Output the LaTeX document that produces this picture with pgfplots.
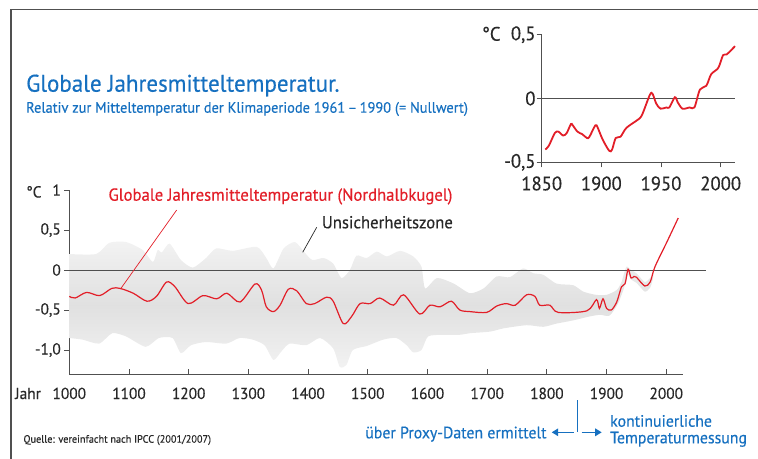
\documentclass[border=0pt]{standalone}
\usepackage{pgfplots}
\pgfplotsset{compat=1.18}
\usetikzlibrary{arrows.meta}
\usepackage{fontspec}
\setmainfont{PT Sans}[FakeStretch=0.96, FakeBold=0.4]
\definecolor{tblue}{RGB}{22,112,192}
\definecolor{tred}{RGB}{226,30,40}
\definecolor{axgray}{RGB}{80,80,80}
\definecolor{txtgray}{RGB}{40,40,40}
\begin{document}
\begin{tikzpicture}
\path[use as bounding box] (0bp,0bp) rectangle (758bp,-459bp);
\draw[line width=1.6bp, axgray] (11bp,-470bp) -- (11bp,-9.5bp) -- (770bp,-9.5bp);
% titles
\node[anchor=base west, inner sep=0, text=tblue, font=\fontsize{24bp}{28bp}\selectfont] at (26bp,-91.7bp) {Globale Jahresmitteltemperatur.};
\node[anchor=base west, inner sep=0, text=tblue, font=\fontsize{15bp}{18bp}\selectfont] at (26bp,-112.7bp) {Relativ zur Mitteltemperatur der Klimaperiode 1961\,–\,1990 (= Nullwert)};
% main axis
\begin{axis}[
  at={(69.3bp,-374bp)}, anchor=south west,
  scale only axis, width=613.7bp, height=184bp,
  xmin=1000, xmax=2028, ymin=-1.3, ymax=1,
  axis lines*=left,
  axis line style={axgray, line width=1bp},
  xtick={1000,1100,1200,1300,1400,1500,1600,1700,1800,1900,2000},
  xticklabels={1000,1100,1200,1300,1400,1500,1600,1700,1800,1900,2000},
  ytick={-1,-0.5,0,0.5,1},
  yticklabels={{-1,0},{-0,5},0,{0,5},1},
  tick align=outside, major tick length=5bp,
  tick style={axgray, line width=0.8bp},
  x tick style={yshift=5bp},
  tick label style={font=\fontsize{16bp}{18bp}\selectfont, text=txtgray},
  xticklabel style={anchor=base, yshift=-20bp},
  /pgf/number format/assume math mode=true,
  clip=false,
]
\addplot[draw=none, top color=gray!10, bottom color=gray!10, middle color=gray!24, smooth, tension=0.4] coordinates {
(1000,0.20) (1045,0.20) (1067,0.34) (1095,0.35) (1123,0.25) (1140,0.10) (1148,0.25) (1155,0.22) (1168,0.33) (1187,0.125) (1207,0.03) (1229,0.15) (1246,0.27) (1274,0.24) (1314,0.29) (1330,0.15) (1342,0.02) (1359,0.27) (1378,0.35) (1393,0.23) (1407,0.125) (1426,0.15) (1442,0.08) (1456,-0.10) (1470,0.0) (1481,0.18) (1498,0.15) (1515,0.23) (1532,0.17) (1554,0.24) (1576,0.17) (1590,0.04) (1596,-0.23) (1616,-0.10) (1644,-0.17) (1671,-0.29) (1694,-0.23) (1716,-0.08) (1738,-0.09) (1760,0.02) (1777,-0.04) (1794,-0.06) (1816,-0.17) (1844,-0.19) (1861,-0.27) (1882,-0.31) (1900,-0.31) (1917,-0.25) (1925,-0.15) (1933,0.04) (1941,0.0) (1950,-0.04) (1964,-0.15) (1973,-0.10) (1978,-0.06)
(1978,-0.10) (1973,-0.22) (1964,-0.27) (1950,-0.16) (1941,-0.12) (1936,-0.06) (1928,-0.25) (1919,-0.42) (1905,-0.57) (1889,-0.56) (1872,-0.58) (1844,-0.63) (1816,-0.67) (1794,-0.71) (1766,-0.69) (1727,-0.73) (1705,-0.77) (1671,-0.79) (1654,-0.81) (1626,-0.81) (1601,-0.83) (1590,-1.0) (1576,-1.03) (1565,-0.94) (1548,-0.85) (1526,-0.87) (1498,-0.95) (1475,-1.0) (1464,-1.19) (1453,-1.21) (1442,-0.98) (1420,-0.85) (1397,-0.94) (1369,-0.92) (1355,-1.02) (1342,-1.125) (1327,-0.94) (1307,-0.87) (1285,-0.85) (1263,-0.92) (1229,-0.90) (1204,-0.94) (1187,-1.04) (1173,-0.85) (1150,-0.85) (1128,-0.96) (1095,-0.83) (1072,-0.79) (1050,-0.92) (1022,-0.87) (1000,-0.85)} -- cycle;
\draw[axgray, line width=0.9bp] (axis cs:1000,0) -- (axis cs:2067,0);
\addplot[tred, line width=1.2bp, smooth, tension=0.5] coordinates {
(1000,-0.33) (1010,-0.35) (1029,-0.28) (1051,-0.32) (1071,-0.23) (1085,-0.23) (1107,-0.29) (1130,-0.39) (1146,-0.33) (1163,-0.15) (1177,-0.21) (1199,-0.42) (1224,-0.32) (1247,-0.36) (1264,-0.29) (1286,-0.40) (1311,-0.175) (1322,-0.25) (1330,-0.46) (1342,-0.52) (1353,-0.44) (1367,-0.24) (1381,-0.26) (1397,-0.42) (1411,-0.42) (1431,-0.34) (1442,-0.39) (1459,-0.67) (1473,-0.58) (1487,-0.42) (1504,-0.42) (1520,-0.35) (1543,-0.44) (1560,-0.31) (1587,-0.55) (1604,-0.44) (1621,-0.46) (1640,-0.39) (1654,-0.50) (1671,-0.52) (1699,-0.53) (1716,-0.45) (1732,-0.42) (1747,-0.44) (1766,-0.31) (1780,-0.33) (1788,-0.44) (1805,-0.44) (1819,-0.53) (1867,-0.51) (1883,-0.37) (1888,-0.48) (1894,-0.36) (1900,-0.48) (1908,-0.50) (1917,-0.40) (1925,-0.21) (1931,-0.17) (1936,0.01) (1941,-0.10) (1946,-0.08) (1950,-0.09) (1964,-0.20) (1973,-0.15) (1981,0.04) (2001,0.35) (2020,0.65)};
\end{axis}
% inset axis
\begin{axis}[
  at={(541.7bp,-162.3bp)}, anchor=south west,
  scale only axis, width=193.3bp, height=127.6bp,
  xmin=1850, xmax=2012, ymin=-0.5, ymax=0.5,
  axis lines*=left,
  axis line style={axgray, line width=1bp},
  xtick={1850,1900,1950,2000},
  xticklabels={1850,1900,1950,2000},
  ytick={-0.5,0,0.5},
  yticklabels={{-0,5},0,{0,5}},
  tick align=outside, major tick length=5bp,
  tick style={axgray, line width=0.8bp},
  tick label style={font=\fontsize{19.5bp}{22bp}\selectfont, text=txtgray},
  xticklabel style={anchor=base, yshift=-23bp},
  yticklabel style={inner xsep=1bp},
  /pgf/number format/assume math mode=true,
  clip=false,
]
\draw[axgray, line width=0.9bp] (axis cs:1850,0) -- (axis cs:2012,0);
\addplot[tred, line width=1.8bp, smooth, tension=0.5] coordinates {
(1853,-0.40) (1856,-0.37) (1861,-0.27) (1864,-0.26) (1868,-0.29) (1871,-0.27) (1874.5,-0.20) (1876,-0.21) (1880,-0.26) (1884,-0.28) (1888,-0.31) (1890,-0.30) (1895,-0.21) (1897,-0.23) (1901,-0.32) (1906.6,-0.41) (1909,-0.40) (1912,-0.31) (1916,-0.30) (1921,-0.23) (1930,-0.17) (1934,-0.13) (1940.7,0.03) (1943,0.035) (1946,-0.04) (1949.6,-0.08) (1954.5,-0.07) (1957,-0.07) (1961.6,0.01) (1964,-0.03) (1968,-0.08) (1974,-0.07) (1978,-0.07) (1982.6,0.07) (1988,0.10) (1992,0.19) (1998,0.24) (2002,0.34) (2005,0.345) (2012,0.41)};
\end{axis}
% unit labels
\node[anchor=base west, inner sep=0, text=txtgray, font=\fontsize{16bp}{18bp}\selectfont] at (26bp,-197.5bp) {°C};
\node[anchor=base west, inner sep=0, text=txtgray, font=\fontsize{19.5bp}{22bp}\selectfont] at (481.7bp,-40.7bp) {°C};
\node[anchor=base west, inner sep=0, text=txtgray, font=\fontsize{16bp}{18bp}\selectfont] at (15bp,-399bp) {Jahr};
% annotations
\node[anchor=base west, inner sep=0, text=tred, font=\fontsize{17.4bp}{20bp}\selectfont] at (108.3bp,-200.7bp) {Globale Jahresmitteltemperatur (Nordhalbkugel)};
\draw[tred, line width=0.7bp] (176.7bp,-210bp) -- (120.5bp,-289bp);
\node[anchor=base west, inner sep=0, text=txtgray, font=\fontsize{17.4bp}{20bp}\selectfont] at (321.7bp,-228.3bp) {Unsicherheitszone};
\draw[txtgray, line width=0.7bp] (316.7bp,-227.3bp) -- (302.7bp,-252.3bp);
% source
\node[anchor=base west, inner sep=0, text=txtgray, font=\fontsize{10.7bp}{12bp}\selectfont] at (23.3bp,-442.7bp) {Quelle: vereinfacht nach IPCC (2001/2007)};
% proxy / measurement
\draw[tblue, line width=1.2bp] (577.7bp,-400bp) -- (577.7bp,-431.7bp);
\draw[tblue, line width=1.4bp, -{Triangle[length=6.5bp,width=7.5bp]}] (573.5bp,-432.3bp) -- (551.7bp,-432.3bp);
\draw[tblue, line width=1.4bp, -{Triangle[length=6.5bp,width=7.5bp]}] (581.7bp,-432.3bp) -- (601.7bp,-432.3bp);
\node[anchor=base east, inner sep=0, text=tblue, font=\fontsize{16.5bp}{19bp}\selectfont] at (546.7bp,-438.3bp) {über Proxy-Daten ermittelt};
\node[anchor=base west, inner sep=0, text=tblue, font=\fontsize{16.5bp}{19bp}\selectfont] at (610bp,-426.7bp) {kontinuierliche};
\node[anchor=base west, inner sep=0, text=tblue, font=\fontsize{16.5bp}{19bp}\selectfont] at (610bp,-443.3bp) {Temperaturmessung};
\end{tikzpicture}
\end{document}
